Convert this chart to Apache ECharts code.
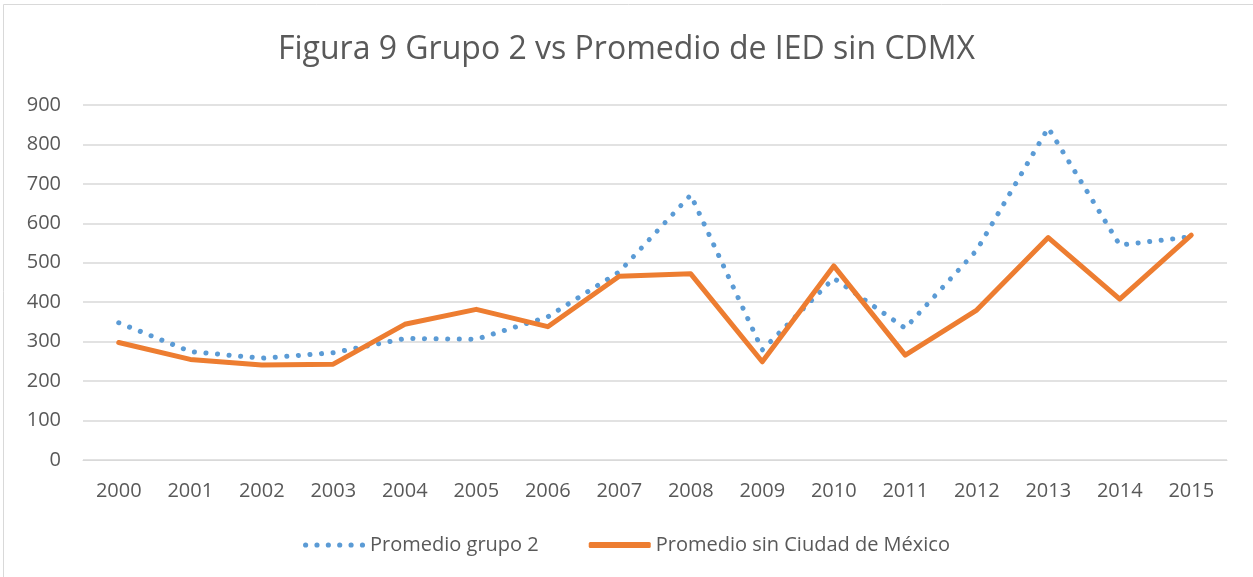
<!DOCTYPE html>
<html>
<head>
<meta charset="utf-8">
<script src="https://cdn.jsdelivr.net/npm/echarts@6/dist/echarts.min.js"></script>
<style>
  html, body { margin: 0; padding: 0; background: #fff; }
  #chart { width: 1253px; height: 577px; }
</style>
</head>
<body>
<div id="chart"></div>
<script>
// datos
var years = ['2000', '2001', '2002', '2003', '2004', '2005', '2006', '2007',
             '2008', '2009', '2010', '2011', '2012', '2013', '2014', '2015'];
var grupo2 = [348, 275, 258, 272, 308, 306, 363, 477, 672, 279, 461, 334, 532, 842, 545, 566];
var sinCDMX = [298, 255, 241, 243, 344, 382, 338, 466, 472, 249, 492, 266, 380, 564, 408, 570];

var txt = '#595959';
var font = 'Open Sans';

// icono de puntos para la leyenda
var dotsIcon = 'path://M0,2.5a2.5,2.5 0 1,0 5,0a2.5,2.5 0 1,0 -5,0' +
    'M11,2.5a2.5,2.5 0 1,0 5,0a2.5,2.5 0 1,0 -5,0' +
    'M22,2.5a2.5,2.5 0 1,0 5,0a2.5,2.5 0 1,0 -5,0' +
    'M33,2.5a2.5,2.5 0 1,0 5,0a2.5,2.5 0 1,0 -5,0' +
    'M44,2.5a2.5,2.5 0 1,0 5,0a2.5,2.5 0 1,0 -5,0' +
    'M55,2.5a2.5,2.5 0 1,0 5,0a2.5,2.5 0 1,0 -5,0';

var chart = echarts.init(document.getElementById('chart'));

chart.setOption({
    animation: false,
    textStyle: { fontFamily: font, color: txt },
    title: {
        text: 'Figura 9 Grupo 2 vs Promedio de IED sin CDMX',
        left: 'center',
        top: 29,
        textStyle: { fontFamily: font, fontSize: 32, fontWeight: 'normal', color: txt }
    },
    graphic: [{
        type: 'rect',
        shape: { x: 3.5, y: 4.5, width: 1260, height: 580 },
        style: { fill: 'none', stroke: '#d9d9d9', lineWidth: 1 },
        silent: true
    }],
    legend: {
        bottom: 17,
        left: 'center',
        itemGap: 50,
        itemWidth: 62,
        itemHeight: 6,
        textStyle: { fontSize: 20, color: txt, fontFamily: font },
        data: [
            { name: 'Promedio grupo 2', icon: dotsIcon },
            { name: 'Promedio sin Ciudad de México', icon: 'roundRect' }
        ]
    },
    grid: { left: 83, right: 26, top: 105, bottom: 117 },
    xAxis: {
        type: 'category',
        data: years,
        boundaryGap: true,
        axisLine: { lineStyle: { color: '#d9d9d9' } },
        axisTick: { show: false },
        axisLabel: { fontSize: 20, color: txt, margin: 21 }
    },
    yAxis: {
        type: 'value',
        min: 0,
        max: 900,
        interval: 100,
        axisLine: { show: false },
        axisTick: { show: false },
        axisLabel: { fontSize: 20, color: txt, margin: 22 },
        splitLine: { lineStyle: { color: '#d9d9d9', width: 1.5 } }
    },
    series: [
        {
            name: 'Promedio grupo 2',
            type: 'line',
            data: grupo2,
            symbol: 'none',
            itemStyle: { color: '#5B9BD5' },
            lineStyle: { color: '#5B9BD5', width: 5, type: [0.1, 11.5], cap: 'round' }
        },
        {
            name: 'Promedio sin Ciudad de México',
            type: 'line',
            data: sinCDMX,
            symbol: 'none',
            itemStyle: { color: '#ED7D31' },
            lineStyle: { color: '#ED7D31', width: 5, cap: 'round', join: 'round' }
        }
    ]
});
</script>
</body>
</html>
